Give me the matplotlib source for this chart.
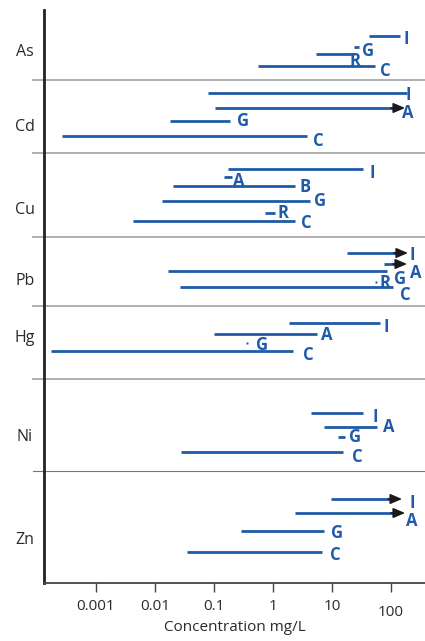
import matplotlib
matplotlib.use("Agg")
import matplotlib.pyplot as plt
import matplotlib.transforms as mtransforms
import numpy as np

plt.rcParams['font.family'] = ['Open Sans', 'DejaVu Sans']

# concentration ranges (mg/L), per element
elements = ['As', 'Cd', 'Cu', 'Pb', 'Hg', 'Ni', 'Zn']

as_labels = ['I', 'G', 'R', 'C']
as_low = [42, 24, 5.4, 0.56]
as_high = [142, 29, 23.6, 54]
as_open = [False, False, False, False]

cd_labels = ['I', 'A', 'G', 'C']
cd_low = [0.079, 0.104, 0.018, 0.00027]
cd_high = [187, 173, 0.187, 3.8]
cd_open = [False, True, False, False]

cu_labels = ['I', 'A', 'B', 'G', 'R', 'C']
cu_low = [0.17, 0.15, 0.020, 0.013, 0.73, 0.0042]
cu_high = [34, 0.20, 2.4, 4.2, 1.08, 2.4]
cu_open = [False] * 6

pb_labels = ['I', 'A', 'G', 'R', 'C']
pb_low = [18, 76, 0.0166, 56, 0.027]
pb_high = [194, 187, 86, 56, 108]
pb_open = [True, True, False, False, False]

hg_labels = ['I', 'A', 'G', 'C']
hg_low = [1.9, 0.10, 0.36, 0.00017]
hg_high = [65, 5.6, 0.36, 2.2]
hg_open = [False] * 4

ni_labels = ['I', 'A', 'G', 'C']
ni_low = [4.4, 7.3, 12.6, 0.028]
ni_high = [34, 58, 16.6, 15.4]
ni_open = [False] * 4

zn_labels = ['I', 'A', 'G', 'C']
zn_low = [9.6, 2.4, 0.29, 0.035]
zn_high = [154, 173, 7.3, 6.8]
zn_open = [True, True, False, False]

tick_vals = [0.001, 0.01, 0.1, 1, 10, 100]
tick_text = ['0.001', '0.01', '0.1', '1', '10', '100']

# ---- layout (screen pixel rows, top = 0) ----
row_y = {
    'As': [36, 47, 54, 66],
    'Cd': [93, 108, 121, 136],
    'Cu': [169, 177, 186, 201, 213, 221],
    'Pb': [253, 264, 271, 282, 287],
    'Hg': [323, 334, 343, 351],
    'Ni': [413, 427, 437, 452],
    'Zn': [499, 513, 531, 552],
}
# label offsets from line end (dx right, dy down), pixels
lab_off = {
    'As': [(6, 2), (9, 2), (1, 6), (10, 4)],
    'Cd': [(1, 0), (3, 3), (13, -1), (11, 4)],
    'Cu': [(9, 3), (7, 3), (10, -1), (10, -2), (8, -2), (11, 1)],
    'Pb': [(4, 0), (9, 7), (13, 6), (9, 0), (12, 6)],
    'Hg': [(6, 2), (10, 0), (15, 0), (15, 3)],
    'Ni': [(12, 3), (12, -1), (10, -1), (14, 4)],
    'Zn': [(10, 2), (7, 6), (13, 0), (13, 1)],
}
elem_y = [52, 127, 210, 281, 338, 437, 540]
sep_y = [80, 153, 237, 306, 379]
sep_last = 471

data = {
    'As': (as_labels, as_low, as_high, as_open),
    'Cd': (cd_labels, cd_low, cd_high, cd_open),
    'Cu': (cu_labels, cu_low, cu_high, cu_open),
    'Pb': (pb_labels, pb_low, pb_high, pb_open),
    'Hg': (hg_labels, hg_low, hg_high, hg_open),
    'Ni': (ni_labels, ni_low, ni_high, ni_open),
    'Zn': (zn_labels, zn_low, zn_high, zn_open),
}

BLUE = '#1f5ba8'
W, H = 425, 641
fig = plt.figure(figsize=(W / 100, H / 100), dpi=100)
ax = fig.add_axes([44 / W, 1 - 583 / H, 381 / W, 573 / H])
ax.set_xscale('log')
ax.set_xlim(10 ** -3.881, 10 ** 2.576)
ax.set_ylim(583, 10)

for el in elements:
    labels, low, high, is_open = data[el]
    for i, lab in enumerate(labels):
        y = row_y[el][i]
        lo, hi = low[i], high[i]
        if lo == hi:
            ax.plot([lo], [y], marker='s', ms=2, color=BLUE, mec='none')
        elif is_open[i]:
            ax.plot([lo, hi / 10 ** (6 / 59)], [y, y], color=BLUE, lw=2, solid_capstyle='butt')
            ax.annotate('', xy=(hi, y), xytext=(hi / 10 ** (14 / 59), y),
                        arrowprops=dict(arrowstyle='-|>,head_length=0.7,head_width=0.3',
                                        color='#1a1a1a', lw=1.2, shrinkA=0, shrinkB=0))
        else:
            ax.plot([lo, hi], [y, y], color=BLUE, lw=2, solid_capstyle='butt')
        dx, dy = lab_off[el][i]
        ax.annotate(lab, xy=(hi, y), xytext=(dx, -dy - 6.5), textcoords='offset pixels',
                    ha='center', va='baseline', color=BLUE, fontsize=12,
                    fontweight='bold')

for y in sep_y:
    ax.axhline(y, xmin=-11 / 381, xmax=1, color='#a9a9a9', lw=1.3, clip_on=False)
ax.axhline(sep_last, xmin=-11 / 381, xmax=1, color='#777777', lw=0.8, clip_on=False)

for el, y in zip(elements, elem_y):
    ax.text(-19 / 381, y, el, transform=ax.get_yaxis_transform(), ha='center', va='center',
            fontsize=11.5, color='#2a2a2a')

ax.set_yticks([])
ax.set_xticks(tick_vals)
ax.set_xticklabels(tick_text)
ax.xaxis.set_minor_locator(matplotlib.ticker.NullLocator())
ax.tick_params(axis='x', direction='out', length=6.5, width=1, color='#444444',
               labelsize=11, labelcolor='#2a2a2a', pad=5)
# the "100" label sits a bit lower in the original
lbl = ax.get_xticklabels()[-1]
lbl.set_transform(lbl.get_transform() + mtransforms.ScaledTranslation(0, -6 / 100, fig.dpi_scale_trans))

ax.set_xlabel('Concentration mg/L', fontsize=11, color='#2a2a2a', labelpad=0)

for s in ['top', 'right']:
    ax.spines[s].set_visible(False)
ax.spines['left'].set_linewidth(2)
ax.spines['left'].set_color('#222222')
ax.spines['bottom'].set_linewidth(1.3)
ax.spines['bottom'].set_color('#444444')

fig.savefig('out.png', dpi=100)
